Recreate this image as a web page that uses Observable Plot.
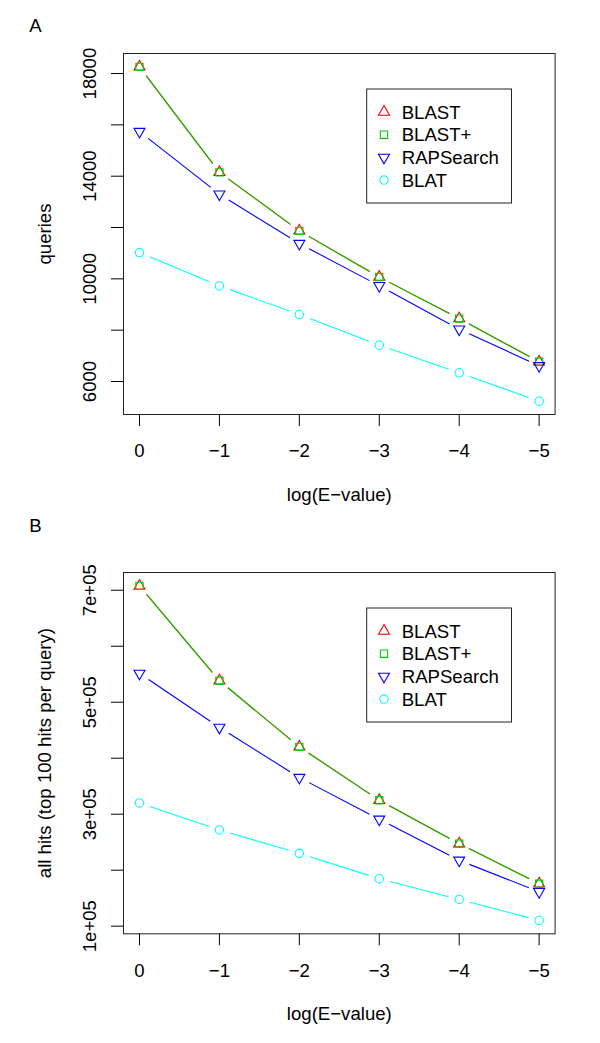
<!DOCTYPE html>
<html><head><meta charset="utf-8">
<script src="https://cdn.jsdelivr.net/npm/d3@7"></script>
<script src="https://cdn.jsdelivr.net/npm/@observablehq/plot@0.6"></script>
<style>body{margin:0;background:#fff;} #chart svg{display:block;}</style>
</head><body><div id="chart"></div>
<script>
// ---- data ----
const logE = [0, -1, -2, -3, -4, -5];
const seriesNames = ["BLAST", "BLAST+", "RAPSearch", "BLAT"];
const seriesColors = ["#FF0000", "#00CD00", "#0000FF", "#00FFFF"];

const queriesBLAST     = [18260, 14150, 11870, 10070, 8450, 6770];
const queriesBLASTplus = [18260, 14150, 11870, 10070, 8450, 6770];
const queriesRAPSearch = [15740, 13300, 11375, 9730, 8040, 6610];
const queriesBLAT      = [11025, 9725, 8610, 7415, 6340, 5235];

const hitsBLAST     = [707800, 538400, 420300, 324900, 247400, 175800];
const hitsBLASTplus = [707800, 538400, 420300, 324900, 247400, 175800];
const hitsRAPSearch = [551500, 454900, 365500, 290900, 217600, 161500];
const hitsBLAT      = [320200, 271900, 230100, 184800, 147800, 110300];

const xTicks  = [0, -1, -2, -3, -4, -5];
const yTicksA = [6000, 8000, 10000, 12000, 14000, 16000, 18000];
const yLabelsA = [6000, 10000, 14000, 18000];
const yTicksB = [100000, 200000, 300000, 400000, 500000, 600000, 700000];
const yLabelsB = [100000, 300000, 500000, 700000];

// ---- symbols (R pch 2, 0, 6, 1) ----
const triUp = {draw(c, size) { const s = Math.sqrt(size / Math.PI) / 4.2;
  c.moveTo(0, -6.4 * s); c.lineTo(5.5 * s, 3.2 * s); c.lineTo(-5.5 * s, 3.2 * s); c.closePath(); }};
const square = {draw(c, size) { const h = 3.65 * Math.sqrt(size / Math.PI) / 4.2;
  c.moveTo(-h, -h); c.lineTo(h, -h); c.lineTo(h, h); c.lineTo(-h, h); c.closePath(); }};
const triDown = {draw(c, size) { const s = Math.sqrt(size / Math.PI) / 4.2;
  c.moveTo(0, 6.4 * s); c.lineTo(5.5 * s, -3.2 * s); c.lineTo(-5.5 * s, -3.2 * s); c.closePath(); }};
const circle = {draw(c, size) { const r = Math.sqrt(size / Math.PI);
  c.moveTo(r, 0); c.arc(0, 0, r, 0, 2 * Math.PI); }};
const symbols = [triUp, square, triDown, circle];

const fmtX = d => d < 0 ? "\u2212" + (-d) : String(d);
const FONT = "'Liberation Sans', Arial, Helvetica, sans-serif";

function panel({label, ylabel, series, yTicks, yLabels, yFmt, height, marginTop, marginBottom}) {
  const [lo, hi] = d3.extent(series.flat());
  const pad = (hi - lo) * 0.04;
  const marks = [
    Plot.axisX({ticks: xTicks, tickSize: 12, tickPadding: 17.5, tickFormat: fmtX, label: null}),
    Plot.axisY({ticks: yTicks, tickSize: 12, tickFormat: () => "", label: null}),
    Plot.text(yLabels, {y: d => d, text: yFmt, frameAnchor: "left", dx: -27.5, rotate: -90,
      textAnchor: "middle", lineAnchor: "bottom"}),
    Plot.text([ylabel], {text: d => d, frameAnchor: "left", dx: -72.5, rotate: -90,
      textAnchor: "middle", lineAnchor: "bottom"}),
    Plot.text(["log(E\u2212value)"], {text: d => d, frameAnchor: "bottom", dy: 86, lineAnchor: "bottom"})
  ];
  series.forEach((vals, i) => {
    const pts = logE.map((x, j) => ({x, y: vals[j]}));
    const segs = d3.pairs(pts);
    marks.push(Plot.arrow(segs, {x1: d => d[0].x, y1: d => d[0].y, x2: d => d[1].x, y2: d => d[1].y,
      stroke: seriesColors[i], strokeWidth: 1.1, headLength: 0, insetStart: 11, insetEnd: 11,
      strokeLinecap: "butt", strokeLinejoin: "miter"}));
    marks.push(Plot.dot(pts, {x: "x", y: "y", r: 4.2, symbol: symbols[i], stroke: seriesColors[i],
      fill: "none", strokeWidth: 1.1}));
  });
  marks.push(Plot.frame({stroke: "#222", strokeWidth: 1}));

  const svgEl = Plot.plot({
    width: 600, height, marginTop, marginBottom, marginLeft: 123, marginRight: 45.4,
    x: {domain: [0.2, -5.2], label: null},
    y: {domain: [lo - pad, hi + pad], label: null},
    style: {fontFamily: FONT, fontSize: "18.6px", background: "white", color: "black", overflow: "visible"},
    marks
  });
  const svg = d3.select(svgEl);
  svg.append("text").attr("x", 29.3).attr("y", 32).attr("fill", "black")
    .attr("text-anchor", "start").text(label);
  const g = svg.append("g").attr("transform", `translate(366.7,${marginTop + 36})`)
    .attr("text-anchor", "start");
  g.append("rect").attr("width", 144.8).attr("height", 114).attr("fill", "white").attr("stroke", "#222");
  seriesNames.forEach((name, i) => {
    const cy = 23 + i * 22.7;
    g.append("path").attr("d", d3.symbol(symbols[i], Math.PI * 4.2 * 4.2)())
      .attr("transform", `translate(17.3,${cy})`).attr("fill", "none")
      .attr("stroke", seriesColors[i]).attr("stroke-width", 1.1);
    g.append("text").attr("x", 35).attr("y", cy + 6.6).attr("fill", "black")
      .attr("text-anchor", "start").text(name);
  });
  return svgEl;
}

const chart = document.getElementById("chart");
chart.appendChild(panel({
  label: "A", ylabel: "queries",
  series: [queriesBLAST, queriesBLASTplus, queriesRAPSearch, queriesBLAT],
  yTicks: yTicksA, yLabels: yLabelsA, yFmt: d => String(d),
  height: 500, marginTop: 53, marginBottom: 86
}));
chart.appendChild(panel({
  label: "B", ylabel: "all hits (top 100 hits per query)",
  series: [hitsBLAST, hitsBLASTplus, hitsRAPSearch, hitsBLAT],
  yTicks: yTicksB, yLabels: yLabelsB,
  yFmt: d => d.toExponential().replace(/e\+(\d)$/, "e+0$1"),
  height: 543, marginTop: 72, marginBottom: 109.7
}));
</script></body></html>
